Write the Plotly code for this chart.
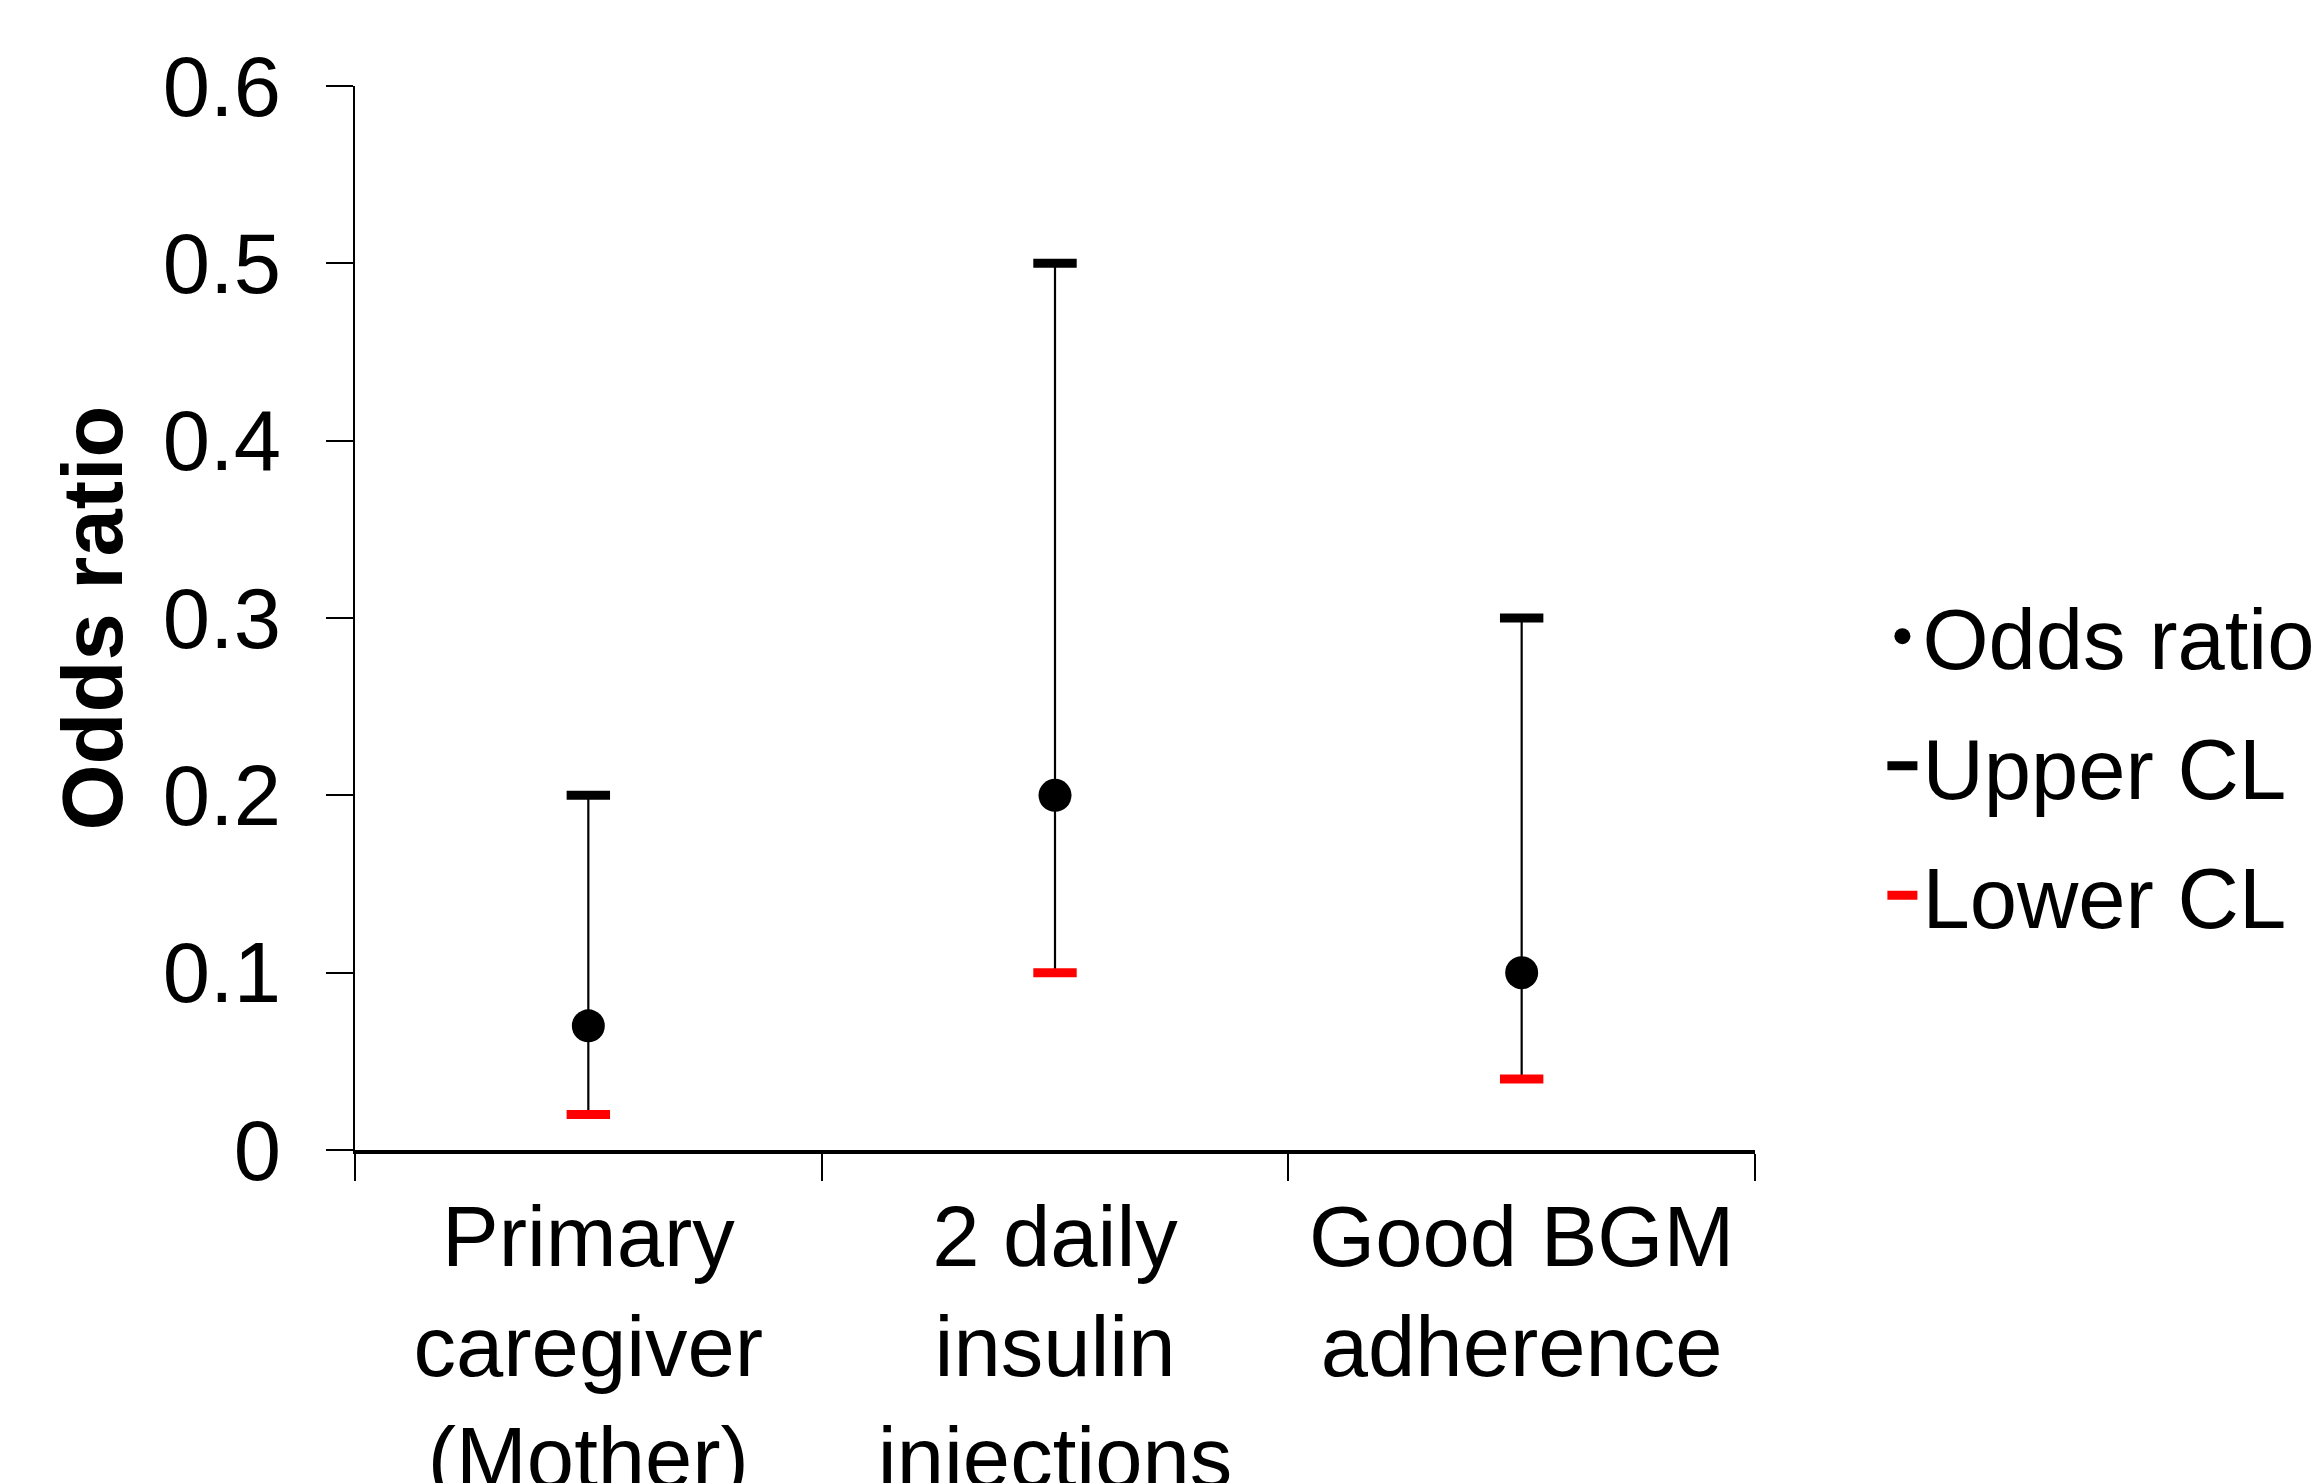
import plotly.graph_objects as go

categories = ["Primary<br>caregiver<br>(Mother)", "2 daily<br>insulin<br>injections", "Good BGM<br>adherence"]
odds_ratio = [0.07, 0.20, 0.10]
upper_cl = [0.20, 0.50, 0.30]
lower_cl = [0.02, 0.10, 0.04]

err_plus = [u - o for u, o in zip(upper_cl, odds_ratio)]
err_minus = [o - l for o, l in zip(odds_ratio, lower_cl)]

FONT = "Liberation Sans, Arial, sans-serif"

fig = go.Figure()
fig.add_trace(go.Scatter(
    x=categories, y=odds_ratio, mode="markers", name="Odds ratio",
    legendgroup="a", legendrank=1,
    marker=dict(symbol="circle", size=33, color="black"),
    error_y=dict(type="data", symmetric=False, array=err_plus, arrayminus=err_minus,
                 color="black", thickness=2.2, width=0),
))
fig.add_trace(go.Scatter(
    x=categories, y=upper_cl, mode="markers", name="Upper CL",
    legendgroup="b", showlegend=False,
    marker=dict(symbol="line-ew", size=31, color="black", line=dict(color="black", width=9)),
))
fig.add_trace(go.Scatter(
    x=categories, y=lower_cl, mode="markers", name="Lower CL",
    legendgroup="c", showlegend=False,
    marker=dict(symbol="line-ew", size=31, color="red", line=dict(color="red", width=9)),
))
# legend entries for the CL dashes (drawn as thick short lines in the legend)
fig.add_trace(go.Scatter(
    x=[None], y=[None], mode="lines", name="Upper CL",
    legendgroup="b", legendrank=2, hoverinfo="skip",
    line=dict(color="black", width=9),
))
fig.add_trace(go.Scatter(
    x=[None], y=[None], mode="lines", name="Lower CL",
    legendgroup="c", legendrank=3, hoverinfo="skip",
    line=dict(color="red", width=9),
))

fig.update_layout(
    width=2312, height=1475,
    margin=dict(l=347, r=565, t=78, b=333, autoexpand=False),
    paper_bgcolor="white", plot_bgcolor="white",
    font=dict(family=FONT, size=85, color="black"),
    showlegend=True,
    legend=dict(x=1.091, y=0.361, xanchor="left", yanchor="middle",
                font=dict(size=85), tracegroupgap=16, itemwidth=30,
                bgcolor="rgba(0,0,0,0)"),
    xaxis=dict(
        type="category", range=[-0.5, 2.5], automargin=False,
        showline=True, linecolor="black", linewidth=3.5,
        ticks="outside", tickson="boundaries", ticklen=27, tickwidth=2.2, tickcolor="black",
        showgrid=False, zeroline=False, tickfont=dict(size=85), ticklabelstandoff=10,
    ),
    yaxis=dict(
        range=[0, 0.6], dtick=0.1, tick0=0, automargin=False,
        showline=True, linecolor="black", linewidth=2,
        ticks="outside", ticklen=27, tickwidth=2.2, tickcolor="black",
        showgrid=False, zeroline=False, tickfont=dict(size=85),
        tickformat="~g", ticklabelstandoff=28,
        title=dict(text="<b>Odds ratio</b>", font=dict(size=85), standoff=12),
    ),
)

fig.write_html("out.html")
